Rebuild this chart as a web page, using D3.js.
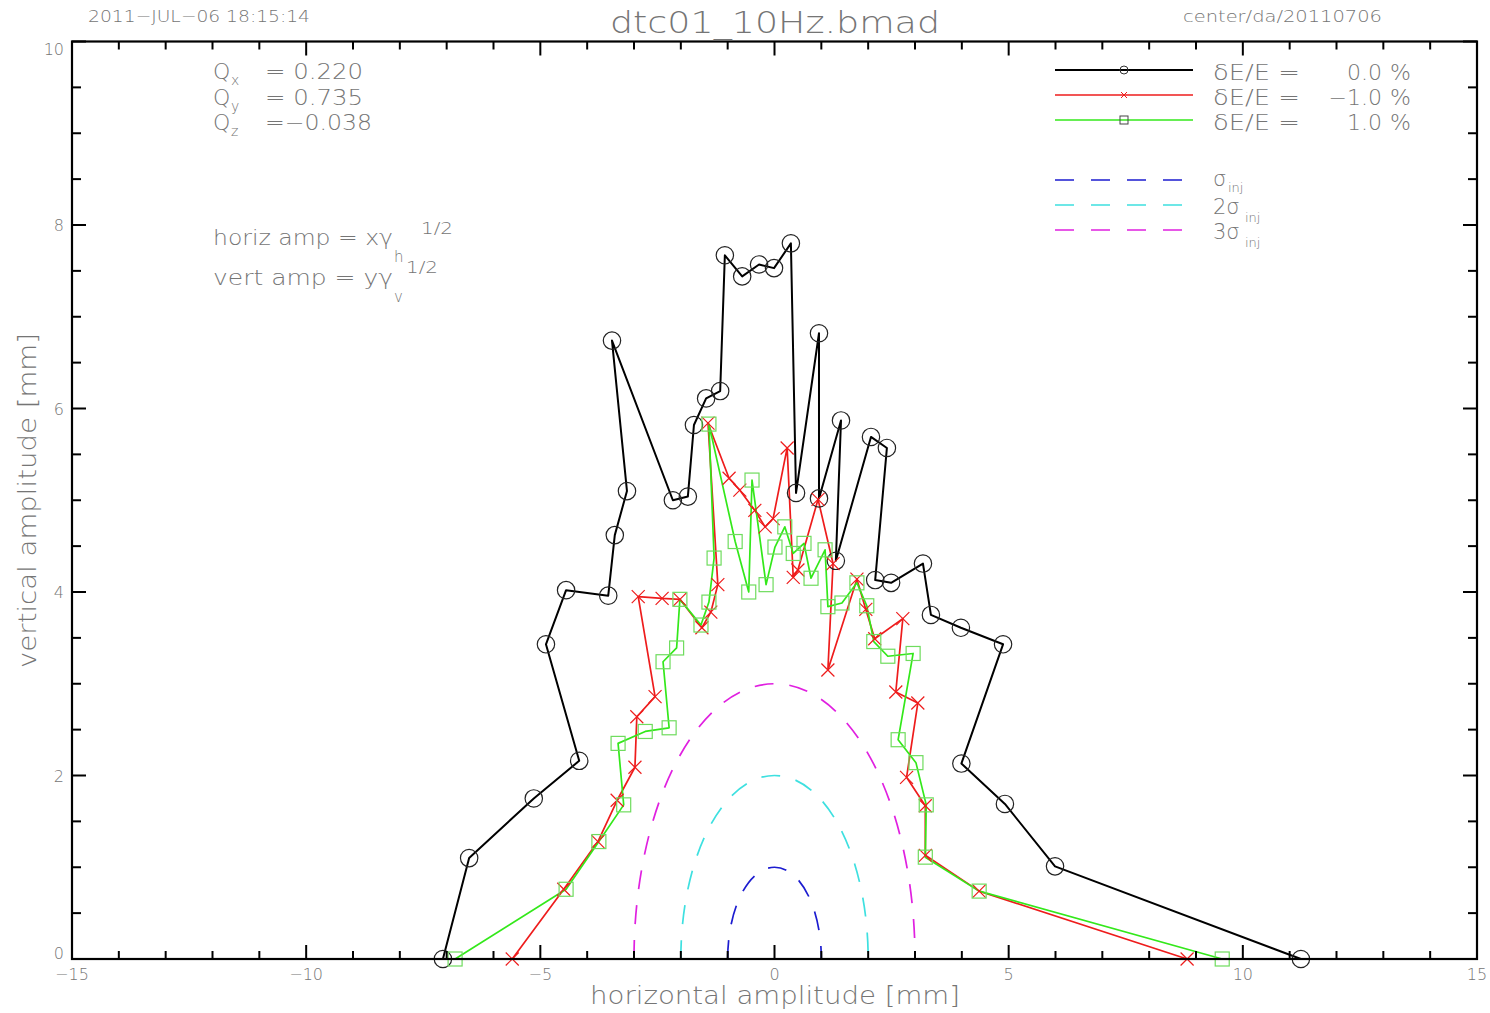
<!DOCTYPE html>
<html><head><meta charset="utf-8">
<script src="https://cdn.jsdelivr.net/npm/d3@7"></script>
<style>
html,body{margin:0;padding:0;background:#fff;}
text{font-family:"DejaVu Sans",sans-serif;font-weight:200;fill:#757575;}
</style></head>
<body>
<script>
// ---------- data ----------
const blackX = [-7.08,-6.52,-5.14,-4.17,-4.88,-4.45,-3.55,-3.41,-3.15,-3.47,-2.17,-1.85,-1.72,-1.46,-1.16,-1.06,-0.69,-0.33,-0.01,0.35,0.46,0.95,0.95,1.42,1.31,2.06,2.40,2.15,2.49,3.17,3.34,3.98,4.88,3.99,4.92,5.99,11.24];
const blackY = [0,1.10,1.75,2.16,3.43,4.02,3.96,4.62,5.10,6.74,5.00,5.04,5.82,6.11,6.19,7.67,7.44,7.57,7.53,7.80,5.08,6.82,5.02,5.87,4.34,5.69,5.57,4.13,4.10,4.31,3.75,3.61,3.43,2.13,1.69,1.01,0];
const redX = [-5.60,-4.50,-3.77,-3.36,-2.98,-2.94,-2.55,-2.91,-2.40,-2.02,-1.55,-1.36,-1.21,-1.42,-0.97,-0.74,-0.42,-0.20,-0.03,0.27,0.40,0.50,0.93,1.25,1.14,1.76,1.95,2.14,2.74,2.59,3.06,2.82,3.22,3.22,4.37,8.81];
const redY = [0,0.76,1.28,1.73,2.09,2.64,2.86,3.95,3.93,3.92,3.61,3.78,4.08,5.84,5.24,5.11,4.89,4.71,4.80,5.57,4.16,4.24,5.01,4.31,3.15,4.14,3.81,3.49,3.71,2.91,2.79,1.98,1.67,1.13,0.74,0];
const greenX = [-6.82,-4.45,-3.75,-3.22,-3.34,-2.76,-2.25,-2.38,-2.09,-2.02,-1.57,-1.40,-1.29,-1.40,-0.84,-0.55,-0.48,-0.18,0.01,0.22,0.40,0.63,0.78,1.08,1.14,1.44,1.76,1.97,2.12,2.42,2.96,2.64,3.02,3.24,3.22,4.37,9.56];
const greenY = [0,0.76,1.28,1.68,2.35,2.48,2.52,3.24,3.39,3.92,3.64,3.89,4.37,5.83,4.55,4.00,5.22,4.08,4.49,4.71,4.42,4.53,4.15,4.46,3.84,3.88,4.10,3.85,3.46,3.30,3.33,2.39,2.14,1.68,1.11,0.74,0];
const sigmaRadii = [1,2,3];
const sigmaLabels = ["σ","2σ","3σ"];
const seriesLabels = ["0.0","−1.0","1.0"];
const xTickValues = [-15,-10,-5,0,5,10,15];
const xTickLabels = ["−15","−10","−5","0","5","10","15"];
const yTickValues = [0,2,4,6,8,10];
const yTickLabels = ["0","2","4","6","8","10"];
const tuneNames = ["x","y","z"];
const tuneValues = ["=  0.220","=  0.735","=−0.038"];

// ---------- setup ----------
const W = 1490, H = 1013;
const svg = d3.select("body").append("svg").attr("width", W).attr("height", H);
svg.append("rect").attr("width", W).attr("height", H).attr("fill", "#fff");
const L = 72, R = 1477, T = 41.5, B = 959;
const x = d3.scaleLinear().domain([-15, 15]).range([L, R]);
const y = d3.scaleLinear().domain([0, 10]).range([B, T]);

const colors = {black:"#000", red:"#ee1c1c", green:"#33e81a", greenM:"#6fdc5e",
  blue:"#1c1cd0", cyan:"#3ee0e0", magenta:"#e020e0"};

// ---------- sigma ellipses ----------
const ellColors = [colors.blue, colors.cyan, colors.magenta];
sigmaRadii.forEach((r, i) => {
  const rx = x(r) - x(0), ry = y(0) - y(r);
  svg.append("path")
    .attr("d", `M${x(-r)},${y(0)} A${rx},${ry} 0 0 1 ${x(r)},${y(0)}`)
    .attr("fill", "none").attr("stroke", ellColors[i]).attr("stroke-width", 1.7)
    .attr("stroke-dasharray", "19,16");
});

// ---------- series ----------
function series(xs, ys, color, width) {
  const pts = xs.map((v, i) => [v, ys[i]]);
  svg.append("path").datum(pts)
    .attr("d", d3.line().x(d => x(d[0])).y(d => y(d[1])))
    .attr("fill", "none").attr("stroke", color).attr("stroke-width", width)
    .attr("stroke-linejoin", "round");
  return pts;
}
const bPts = series(blackX, blackY, colors.black, 2);
const rPts = series(redX, redY, colors.red, 1.7);
const gPts = series(greenX, greenY, colors.green, 1.7);

svg.append("g").selectAll("circle").data(bPts).join("circle")
  .attr("cx", d => x(d[0])).attr("cy", d => y(d[1])).attr("r", 8.7)
  .attr("fill", "none").attr("stroke", "#222").attr("stroke-width", 1.2);
const cross = (g, px, py, s, c, w) => {
  g.append("path").attr("d", `M${px-s},${py-s}L${px+s},${py+s}M${px-s},${py+s}L${px+s},${py-s}`)
    .attr("stroke", c).attr("stroke-width", w).attr("fill", "none");
};
const rg = svg.append("g");
rPts.forEach(d => cross(rg, x(d[0]), y(d[1]), 6.5, colors.red, 1.2));
svg.append("g").selectAll("rect").data(gPts).join("rect")
  .attr("x", d => x(d[0]) - 7).attr("y", d => y(d[1]) - 7)
  .attr("width", 14).attr("height", 14)
  .attr("fill", "none").attr("stroke", colors.greenM).attr("stroke-width", 1.2);

// ---------- frame & ticks ----------
const ax = svg.append("g").attr("stroke", "#000").attr("stroke-width", 2);
ax.append("rect").attr("x", L).attr("y", T).attr("width", R - L).attr("height", B - T)
  .attr("fill", "none").attr("stroke-width", 2.2);
d3.range(-15, 15.001, 1).forEach(v => {
  const len = (Math.round(v) % 5 === 0) ? 14 : 8;
  ax.append("line").attr("x1", x(v)).attr("x2", x(v)).attr("y1", B).attr("y2", B - len);
  ax.append("line").attr("x1", x(v)).attr("x2", x(v)).attr("y1", T).attr("y2", T + len);
});
d3.range(0, 10.001, 0.5).forEach(v => {
  const len = (Math.abs(v % 2) < 1e-6) ? 14 : 9;
  ax.append("line").attr("y1", y(v)).attr("y2", y(v)).attr("x1", L).attr("x2", L + len);
  ax.append("line").attr("y1", y(v)).attr("y2", y(v)).attr("x1", R).attr("x2", R - len);
});

// tick labels
svg.append("g").selectAll("text").data(xTickValues).join("text")
  .attr("x", d => x(d)).attr("y", 980).attr("text-anchor", "middle")
  .attr("font-size", 16).text((d, i) => xTickLabels[i]);
svg.append("g").selectAll("text").data(yTickValues).join("text")
  .attr("x", 64).attr("y", d => y(d) + 6 + (d === 0 ? -6 : d === 10 ? 7 : 0))
  .attr("text-anchor", "end").attr("font-size", 16).text((d, i) => yTickLabels[i]);

// ---------- titles ----------
const txt = (s, px, py, size, opts = {}) => {
  const t = svg.append("text").attr("x", px).attr("y", py).attr("font-size", size).text(s);
  if (opts.len) t.attr("textLength", opts.len).attr("lengthAdjust", "spacingAndGlyphs");
  if (opts.anchor) t.attr("text-anchor", opts.anchor);
  return t;
};
txt("2011−JUL−06 18:15:14", 88, 22, 16, {len: 222});
txt("dtc01_10Hz.bmad", 610, 33, 30, {len: 330});
txt("center/da/20110706", 1183, 22, 16, {len: 199});
txt("horizontal amplitude [mm]", 590, 1004, 24, {len: 370});
svg.append("text").attr("transform", "translate(36,668) rotate(-90)")
  .attr("font-size", 24).attr("textLength", 335).attr("lengthAdjust", "spacingAndGlyphs")
  .text("vertical amplitude [mm]");

// tunes
tuneNames.forEach((n, i) => {
  const by = 79 + i * 25.5;
  txt("Q", 213, by, 22);
  txt(n, 231, by + 6, 14);
  txt(tuneValues[i], 265, by, 22, {len: i === 2 ? 107 : 98});
});

// amplitude definitions
txt("horiz amp = xγ", 213, 245, 22, {len: 180});
txt("h", 394, 262, 15);
txt("1/2", 421, 234, 16, {len: 32});
txt("vert amp = yγ", 213, 285, 22, {len: 180});
txt("v", 394, 302, 15);
txt("1/2", 406, 273, 16, {len: 32});

// ---------- legend ----------
const legY = [70, 95, 120];
const legC = [colors.black, colors.red, colors.green];
legY.forEach((ly, i) => {
  svg.append("line").attr("x1", 1055).attr("x2", 1193).attr("y1", ly).attr("y2", ly)
    .attr("stroke", legC[i]).attr("stroke-width", i === 0 ? 2 : 1.7);
  txt("δE/E  =", 1213, ly + 10, 22, {len: 87});
  txt(seriesLabels[i], 1382, ly + 10, 22, {anchor: "end"});
  txt("%", 1390, ly + 10, 22);
});
svg.append("circle").attr("cx", 1124).attr("cy", 70).attr("r", 4)
  .attr("fill", "none").attr("stroke", "#333").attr("stroke-width", 1);
cross(svg, 1124, 95, 3, colors.red, 1);
svg.append("rect").attr("x", 1120).attr("y", 116).attr("width", 8).attr("height", 8)
  .attr("fill", "none").attr("stroke", "#444").attr("stroke-width", 1);

const sigY = [180, 205, 230];
sigY.forEach((ly, i) => {
  svg.append("line").attr("x1", 1055).attr("x2", 1193).attr("y1", ly).attr("y2", ly)
    .attr("stroke", ellColors[i]).attr("stroke-width", 1.7).attr("stroke-dasharray", "19,17");
  txt(sigmaLabels[i], 1213, ly + (i === 0 ? 6 : 9), 21);
  txt("inj", i === 0 ? 1228 : 1245, ly + (i === 0 ? 12 : 17), 13);
});
</script>
</body></html>
